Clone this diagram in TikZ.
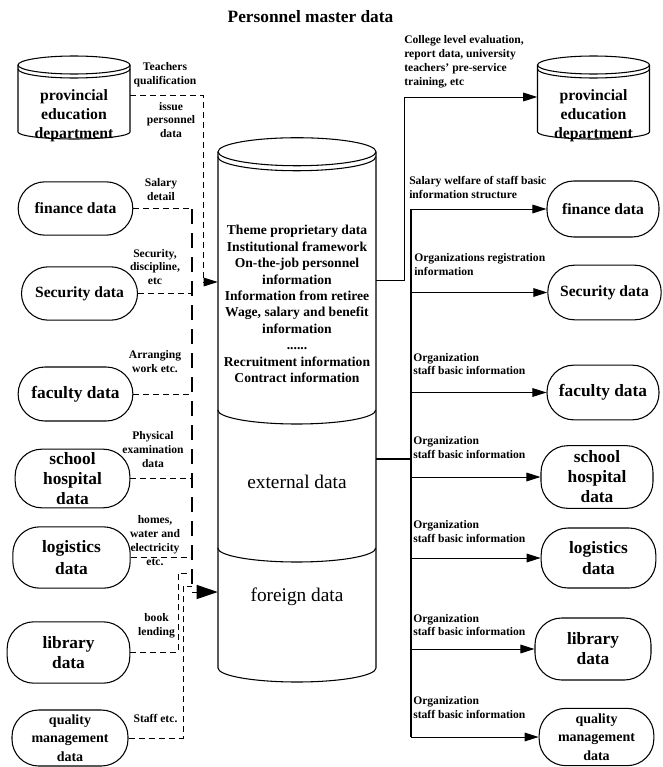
\documentclass[tikz,border=0pt]{standalone}
\usepackage{fontspec}
\setmainfont{Liberation Serif}
\usepackage{tikz}
\usetikzlibrary{arrows.meta,positioning,calc}

\begin{document}
\begin{tikzpicture}[x=0.75pt,y=0.75pt,
  term/.style={draw, line width=0.8pt, rounded corners=20pt, minimum width=86pt,
    minimum height=41pt, inner sep=1pt, align=center,
    font=\fontsize{13}{15}\selectfont\bfseries},
  termsm/.style={font=\fontsize{11.7}{14}\selectfont\bfseries},
  termqm/.style={font=\fontsize{10.5}{13.9}\selectfont\bfseries},
  drumtxt/.style={minimum width=84pt, inner sep=0pt, align=center,
    font=\fontsize{11.8}{14.3}\selectfont\bfseries},
  lbl/.style={inner sep=0pt, align=center,
    font=\fontsize{8.7}{10.4}\selectfont\bfseries},
  rim/.style={line width=0.8pt},
  feed/.style={dash pattern=on 4.5pt off 3pt, line width=0.7pt},
  trunk/.style={dash pattern=on 11pt off 7pt, line width=1.8pt},
  spine/.style={line width=1.8pt},
  flow/.style={line width=0.75pt, -{Triangle[length=10.5pt,width=6.5pt]}}]
  \useasboundingbox (0,0) rectangle (662,-767);

  \node[font=\fontsize{13}{15}\selectfont\bfseries] (title) at (310.5,-17) {Personnel master data};

  % central store
  \node[minimum width=118.5pt, minimum height=387pt, inner sep=0pt] (store) at (297,-410) {};
  \draw[rim] ($(store.center)+(-79,258)$) -- ($(store.center)+(-79,-258)$)
    arc[start angle=180, end angle=360, x radius=79, y radius=14]
    -- ($(store.center)+(79,258)$);
  \draw[rim] (store.north) ellipse [x radius=79, y radius=14];
  \draw[rim] ($(store.north west)+(0,-5)$) arc[start angle=180, end angle=360, x radius=79, y radius=14];
  \draw[rim] (store.west) arc[start angle=180, end angle=360, x radius=79, y radius=14];
  \draw[rim] ($(store.west)+(0,-138)$) arc[start angle=180, end angle=360, x radius=79, y radius=14];
  \node[align=center, font=\fontsize{10.2}{12.3}\selectfont\bfseries] (themeTxt) at (297,-304)
    {Theme proprietary data\\Institutional framework\\On-the-job personnel\\information\\
     Information from retiree\\Wage, salary and benefit\\information\\......\\
     Recruitment information\\Contract information};
  \node[font=\fontsize{14.5}{17}\selectfont] (extTxt) at (297,-482) {external data};
  \node[font=\fontsize{14.5}{17}\selectfont] (forTxt) at (297,-597) {foreign data};

  % provincial departments
  \node[drumtxt] (provL) at (74,-116) {provincial\\education\\department};
  \node[drumtxt] (provR) at (593.5,-116) {provincial\\education\\department};
  \foreach \n in {provL,provR} {
    \draw[rim] ($(\n.center)+(-56,51)$) -- ($(\n.center)+(-56,-16)$)
      arc[start angle=180, end angle=360, x radius=56, y radius=7]
      -- ($(\n.center)+(56,51)$);
    \draw[rim] ($(\n.center)+(0,51)$) ellipse [x radius=56, y radius=9];
    \draw[rim] ($(\n.center)+(-56,47)$) arc[start angle=180, end angle=360, x radius=56, y radius=9];
  }

  % left sources
  \node[term, termsm, minimum height=40pt] (finL) at (75.5,-208.5) {finance data};
  \node[term, termsm, minimum width=87pt, minimum height=40pt] (secL) at (79.5,-293.5) {Security data};
  \node[term, minimum height=40.5pt] (facL) at (75.5,-394) {faculty data};
  \node[term, minimum height=44pt] (hosL) at (72.5,-478.5) {school\\hospital\\data};
  \node[term, minimum width=88pt, minimum height=46pt, font=\fontsize{13}{16}\selectfont\bfseries] (logL) at (71.5,-557.5) {logistics\\data};
  \node[term, minimum width=92pt, minimum height=46pt] (libL) at (68.5,-652.5) {library\\data};
  \node[term, termqm, minimum width=87pt, minimum height=42pt] (quaL) at (70,-738) {quality\\management\\data};

  % right targets
  \node[term, termsm, minimum width=84pt, minimum height=42pt] (finR) at (603,-209) {finance data};
  \node[term, termsm, minimum width=85pt] (secR) at (604.5,-292.5) {Security data};
  \node[term, minimum width=84pt] (facR) at (603,-392.5) {faculty data};
  \node[term, minimum width=84pt, minimum height=47pt] (hosR) at (597,-477) {school\\hospital\\data};
  \node[term, minimum height=45pt, font=\fontsize{13}{16}\selectfont\bfseries] (logR) at (598.5,-558) {logistics\\data};
  \node[term, minimum width=87pt, minimum height=46.5pt] (libR) at (593,-649) {library\\data};
  \node[term, termqm, minimum height=43pt] (quaR) at (596.5,-737) {quality\\management\\data};

  % left labels
  \node[lbl] (tqLbl) at (165,-75) {Teachers\\qualification};
  \node[lbl] (ipLbl) at (171,-120) {issue\\personnel\\data};
  \node[lbl] (sdLbl) at (161,-189.5) {Salary\\detail};
  \node[lbl] (scLbl) at (155,-267) {Security,\\discipline,\\etc};
  \node[lbl] (awLbl) at (155,-361.5) {Arranging\\work etc.};
  \node[lbl] (peLbl) at (153,-449.5) {Physical\\examination\\data};
  \node[lbl] (hwLbl) at (155,-540.5) {homes,\\water and\\electricity\\etc.};
  \node[lbl] (blLbl) at (156.5,-625.5) {book\\lending};
  \node[lbl] (seLbl) at (155.5,-718) {Staff etc.};

  % right labels
  \node[lbl, anchor=west, align=left] (clLbl) at (404,-62)
    {College level evaluation,\\report data, university\\teachers' pre-service\\training, etc};
  \node[lbl, anchor=west, align=left] (swLbl) at (409,-187.5)
    {Salary welfare of staff basic\\information structure};
  \node[lbl, anchor=west, align=left] (orLbl) at (414,-264.5)
    {Organizations registration\\information};
  \foreach \y [count=\i] in {364,447.5,531.5,625,707.5}
    \node[lbl, anchor=west, align=left] (osLbl\i) at (413,-\y)
      {Organization\\staff basic information};

  % dashed inputs
  \coordinate (trunkTop) at (192,-209);
  \coordinate (trunkEnd) at (192,-592);
  \coordinate (hubA) at (203,-282);
  \coordinate (libJoin) at (192,-573);
  \coordinate (quaJoin) at (192,-586);
  \draw[trunk] (trunkTop) -- (trunkEnd);
  \draw[feed, -{Triangle[length=10.5pt,width=6.5pt]}] ([yshift=15.75pt]provL.east) -| (hubA)
    -- (store.west |- hubA);
  \foreach \n in {finL,secL,facL,hosL,logL}
    \draw[feed] (\n.east) -- (trunkTop |- \n.east);
  \draw[feed] (libL.east) -| ([xshift=-10.5pt]libJoin) -- (libJoin);
  \draw[feed] (quaL.east) -| ([xshift=-6.75pt]quaJoin) -- (quaJoin);
  \draw[line width=0.75pt, -{Triangle[length=15.75pt,width=10.5pt]}] (trunkEnd)
    -- (store.west |- trunkEnd);

  % outputs
  \coordinate (splitA) at (404,-280);
  \coordinate (spineMid) at (411,-459);
  \draw[flow] (store.east |- splitA) -- (splitA) |- ([yshift=14.25pt]provR.west);
  \draw[spine] (spineMid |- finR.west) -- (spineMid |- quaR.west);
  \draw[spine] (store.east |- spineMid) -- (spineMid);
  \foreach \n in {finR,secR,facR,hosR,logR,libR,quaR}
    \draw[flow] (spineMid |- \n.west) -- (\n.west);
\end{tikzpicture}
\end{document}
